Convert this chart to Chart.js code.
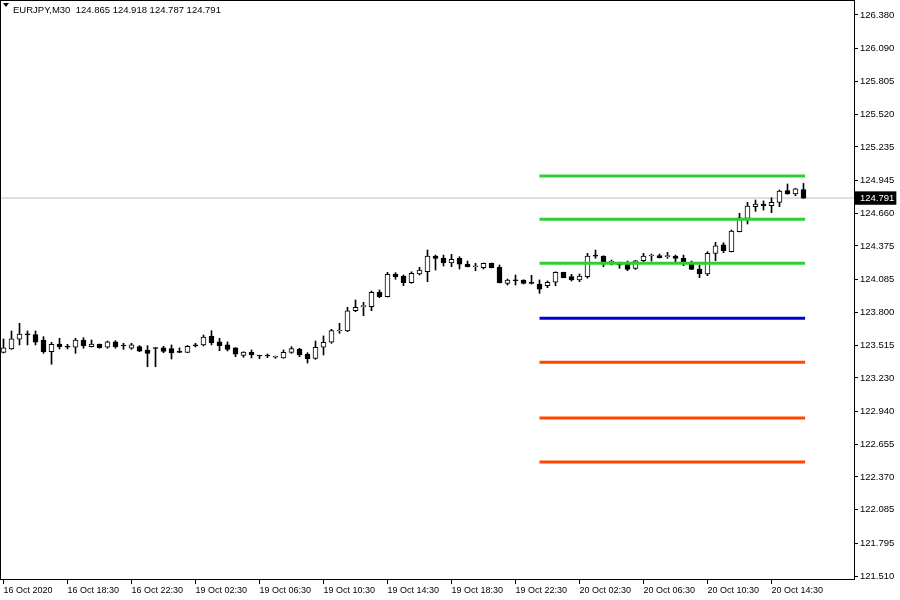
<!DOCTYPE html>
<html>
<head>
<meta charset="utf-8">
<script src="https://cdn.jsdelivr.net/npm/chart.js@4/dist/chart.umd.min.js"></script>
<style>
  html, body { margin: 0; padding: 0; background: #fff; }
  #wrap { position: relative; width: 900px; height: 600px; }
  #title { position: absolute; left: 13px; top: 5px; font: 9.5px "Liberation Sans", Arial, sans-serif; line-height: 10px; color: #000; white-space: pre; }
  #tri { position: absolute; left: 3px; top: 3px; width: 0; height: 0; border-left: 3px solid transparent; border-right: 3px solid transparent; border-top: 4px solid #000; }
</style>
</head>
<body>
<div id="wrap">
  <canvas id="chart" width="900" height="600"></canvas>
  <div id="tri"></div>
  <div id="title">EURJPY,M30  124.865 124.918 124.787 124.791</div>
</div>
<script>
// EURJPY M30 bars, 16 Oct 14:30 (index 0) .. 20 Oct 16:30 (index 100)
const opens = [
  123.451, 123.481, 123.565, 123.611, 123.606, 123.559, 123.457, 123.524, 123.507, 123.496,
  123.559, 123.501, 123.522, 123.496, 123.544, 123.513, 123.487, 123.501, 123.472, 123.487,
  123.490, 123.484, 123.455, 123.452, 123.510, 123.516, 123.591, 123.542, 123.516, 123.490,
  123.426, 123.452, 123.423, 123.423, 123.409, 123.403, 123.452, 123.481, 123.435, 123.400,
  123.496, 123.539, 123.637, 123.637, 123.813, 123.848, 123.848, 123.973, 123.935, 124.132,
  124.114, 124.056, 124.132, 124.151, 124.288, 124.268, 124.229, 124.268, 124.218, 124.195,
  124.186, 124.225, 124.190, 124.051, 124.074, 124.080, 124.051, 124.045, 124.030, 124.060,
  124.146, 124.109, 124.080, 124.109, 124.288, 124.288, 124.233, 124.233, 124.225, 124.181,
  124.247, 124.288, 124.291, 124.282, 124.288, 124.268, 124.233, 124.175, 124.132, 124.311,
  124.384, 124.325, 124.499, 124.615, 124.716, 124.739, 124.725, 124.754, 124.855, 124.826,
  124.865
];
const highs = [
  123.568, 123.637, 123.704, 123.637, 123.637, 123.588, 123.539, 123.574, 123.522, 123.574,
  123.579, 123.559, 123.524, 123.550, 123.553, 123.530, 123.530, 123.510, 123.510, 123.492,
  123.504, 123.516, 123.490, 123.511, 123.530, 123.602, 123.640, 123.574, 123.542, 123.492,
  123.457, 123.472, 123.425, 123.438, 123.420, 123.472, 123.501, 123.487, 123.449, 123.550,
  123.594, 123.652, 123.704, 123.843, 123.906, 123.886, 123.984, 123.993, 124.146, 124.143,
  124.123, 124.151, 124.190, 124.340, 124.296, 124.296, 124.302, 124.282, 124.244, 124.225,
  124.227, 124.227, 124.210, 124.088, 124.123, 124.082, 124.120, 124.080, 124.071, 124.151,
  124.148, 124.129, 124.132, 124.311, 124.340, 124.290, 124.253, 124.235, 124.244, 124.249,
  124.311, 124.305, 124.305, 124.320, 124.296, 124.296, 124.244, 124.210, 124.325, 124.406,
  124.403, 124.514, 124.659, 124.754, 124.774, 124.766, 124.794, 124.861, 124.913, 124.876,
  124.918
];
const lows = [
  123.446, 123.477, 123.516, 123.516, 123.516, 123.443, 123.348, 123.481, 123.481, 123.443,
  123.487, 123.498, 123.487, 123.487, 123.487, 123.478, 123.478, 123.457, 123.327, 123.327,
  123.449, 123.394, 123.449, 123.449, 123.498, 123.507, 123.516, 123.466, 123.464, 123.414,
  123.409, 123.403, 123.397, 123.405, 123.400, 123.400, 123.443, 123.414, 123.359, 123.391,
  123.429, 123.530, 123.617, 123.631, 123.804, 123.770, 123.813, 123.926, 123.932, 124.086,
  124.030, 124.051, 124.123, 124.065, 124.166, 124.201, 124.195, 124.175, 124.193, 124.160,
  124.175, 124.184, 124.054, 124.036, 124.036, 124.045, 124.045, 123.964, 124.013, 124.030,
  124.098, 124.071, 124.065, 124.095, 124.268, 124.195, 124.210, 124.181, 124.160, 124.172,
  124.238, 124.244, 124.270, 124.268, 124.233, 124.204, 124.170, 124.100, 124.117, 124.247,
  124.317, 124.323, 124.497, 124.566, 124.676, 124.687, 124.664, 124.716, 124.824, 124.811,
  124.787
];
const closes = [
  123.490, 123.568, 123.611, 123.604, 123.539, 123.457, 123.522, 123.501, 123.496, 123.559,
  123.507, 123.524, 123.492, 123.544, 123.501, 123.507, 123.516, 123.462, 123.443, 123.485,
  123.459, 123.446, 123.452, 123.504, 123.508, 123.585, 123.536, 123.510, 123.478, 123.435,
  123.455, 123.429, 123.420, 123.420, 123.410, 123.452, 123.484, 123.429, 123.394, 123.496,
  123.539, 123.640, 123.640, 123.813, 123.843, 123.849, 123.973, 123.935, 124.129, 124.109,
  124.056, 124.138, 124.166, 124.288, 124.268, 124.229, 124.259, 124.216, 124.195, 124.197,
  124.225, 124.186, 124.056, 124.080, 124.073, 124.051, 124.050, 124.001, 124.060, 124.146,
  124.100, 124.080, 124.114, 124.288, 124.287, 124.233, 124.234, 124.210, 124.172, 124.247,
  124.288, 124.289, 124.273, 124.283, 124.268, 124.225, 124.172, 124.132, 124.311, 124.377,
  124.334, 124.505, 124.620, 124.722, 124.739, 124.725, 124.754, 124.852, 124.826, 124.870,
  124.791
];

// price scale labels on the right
const yTickLabels = [126.380, 126.090, 125.805, 125.520, 125.235, 124.945, 124.660, 124.375, 124.085,
  123.800, 123.515, 123.230, 122.940, 122.655, 122.370, 122.085, 121.795, 121.510];
const lastPrice = 124.791;

// time labels, one every 8 bars
const xTickIdx = [0, 8, 16, 24, 32, 40, 48, 56, 64, 72, 80, 88, 96];
const xTickLabels = ['16 Oct 2020', '16 Oct 18:30', '16 Oct 22:30', '19 Oct 02:30', '19 Oct 06:30',
  '19 Oct 10:30', '19 Oct 14:30', '19 Oct 18:30', '19 Oct 22:30', '20 Oct 02:30', '20 Oct 06:30',
  '20 Oct 10:30', '20 Oct 14:30'];

// daily pivot levels, drawn from the 20 Oct 00:00 bar
const levelNames = ['R3', 'R2', 'R1', 'PP', 'S1', 'S2', 'S3'];
const levelValues = [124.983, 124.607, 124.224, 123.747, 123.365, 122.882, 122.500];
const levelStart = 67;
const levelEnd = 100.2;

const bodies = opens.map((o, i) => ({ x: i, y: [o, closes[i]] }));
const wicks = lows.map((l, i) => ({ x: i, y: [l, highs[i]] }));

function levelColor(k) {
  if (k < 3) return '#32CD32';
  if (k === 3) return '#0000CD';
  return '#FF4500';
}

const datasets = levelValues.map((v, k) => ({
  type: 'line',
  label: levelNames[k],
  data: [{ x: levelStart, y: v }, { x: levelEnd, y: v }],
  borderColor: levelColor(k),
  borderWidth: 3,
  pointRadius: 0,
  order: 0
}));

datasets.push({
  type: 'bar',
  label: 'body',
  data: bodies,
  grouped: false,
  barThickness: 5,
  maxBarThickness: 5,
  minBarLength: 1,
  borderWidth: 1,
  borderSkipped: false,
  borderColor: '#000',
  backgroundColor: closes.map((c, i) => c > opens[i] ? '#fff' : '#000'),
  order: 1
});
datasets.push({
  type: 'bar',
  label: 'wick',
  data: wicks,
  grouped: false,
  barThickness: 1,
  maxBarThickness: 1,
  borderWidth: 0,
  backgroundColor: '#000',
  order: 2
});
datasets.push({
  type: 'line',
  label: 'bid',
  data: [{ x: -1, y: lastPrice }, { x: 107, y: lastPrice }],
  borderColor: '#C0C0C0',
  borderWidth: 1,
  pointRadius: 0,
  order: 3
});

// border round the plot area
const frame = {
  id: 'frame',
  afterDraw(chart) {
    const { ctx, chartArea: a } = chart;
    ctx.save();
    ctx.strokeStyle = '#000';
    ctx.lineWidth = 1;
    ctx.strokeRect(a.left - 0.5, a.top - 0.5, a.right - a.left + 1, a.bottom - a.top + 1);
    ctx.restore();
  }
};

Chart.defaults.font.family = '"Liberation Sans", Arial, sans-serif';
Chart.defaults.font.size = 9;
Chart.defaults.color = '#000';

new Chart(document.getElementById('chart'), {
  type: 'bar',
  data: { datasets: datasets },
  plugins: [frame],
  options: {
    responsive: false,
    animation: false,
    events: [],
    layout: { padding: { left: 1, top: 1, right: 0, bottom: 0 } },
    plugins: { legend: { display: false }, tooltip: { enabled: false } },
    scales: {
      x: {
        type: 'linear',
        min: -0.3125,
        max: 106.3125,
        offset: false,
        afterBuildTicks: s => { s.ticks = xTickIdx.map(v => ({ value: v })); },
        afterFit: s => { s.height = 21; s.paddingLeft = 0; s.paddingRight = 0; },
        grid: { drawOnChartArea: false, drawTicks: true, tickLength: 5, color: '#000', offset: false },
        border: { display: true, color: '#000' },
        ticks: {
          autoSkip: false,
          maxRotation: 0,
          align: 'start',
          padding: 1,
          color: '#000',
          callback: (v, i) => xTickLabels[i]
        }
      },
      y: {
        position: 'right',
        min: 121.4842,
        max: 126.5015,
        afterBuildTicks: s => { s.ticks = yTickLabels.concat([lastPrice]).map(v => ({ value: v })); },
        afterFit: s => { s.width = 46; s.paddingTop = 0; s.paddingBottom = 0; },
        grid: { drawOnChartArea: false, drawTicks: true, tickLength: 4, color: '#000' },
        border: { display: true, color: '#000' },
        ticks: {
          autoSkip: false,
          padding: 2,
          font: { size: 9.5 },
          color: ctx => (ctx.tick && ctx.tick.value === lastPrice) ? '#fff' : '#000',
          showLabelBackdrop: ctx => !!(ctx.tick && ctx.tick.value === lastPrice),
          backdropColor: '#000',
          backdropPadding: { top: 1, bottom: 1, left: 5, right: 2 },
          callback: v => v.toFixed(3)
        }
      }
    }
  }
});
</script>
</body>
</html>
